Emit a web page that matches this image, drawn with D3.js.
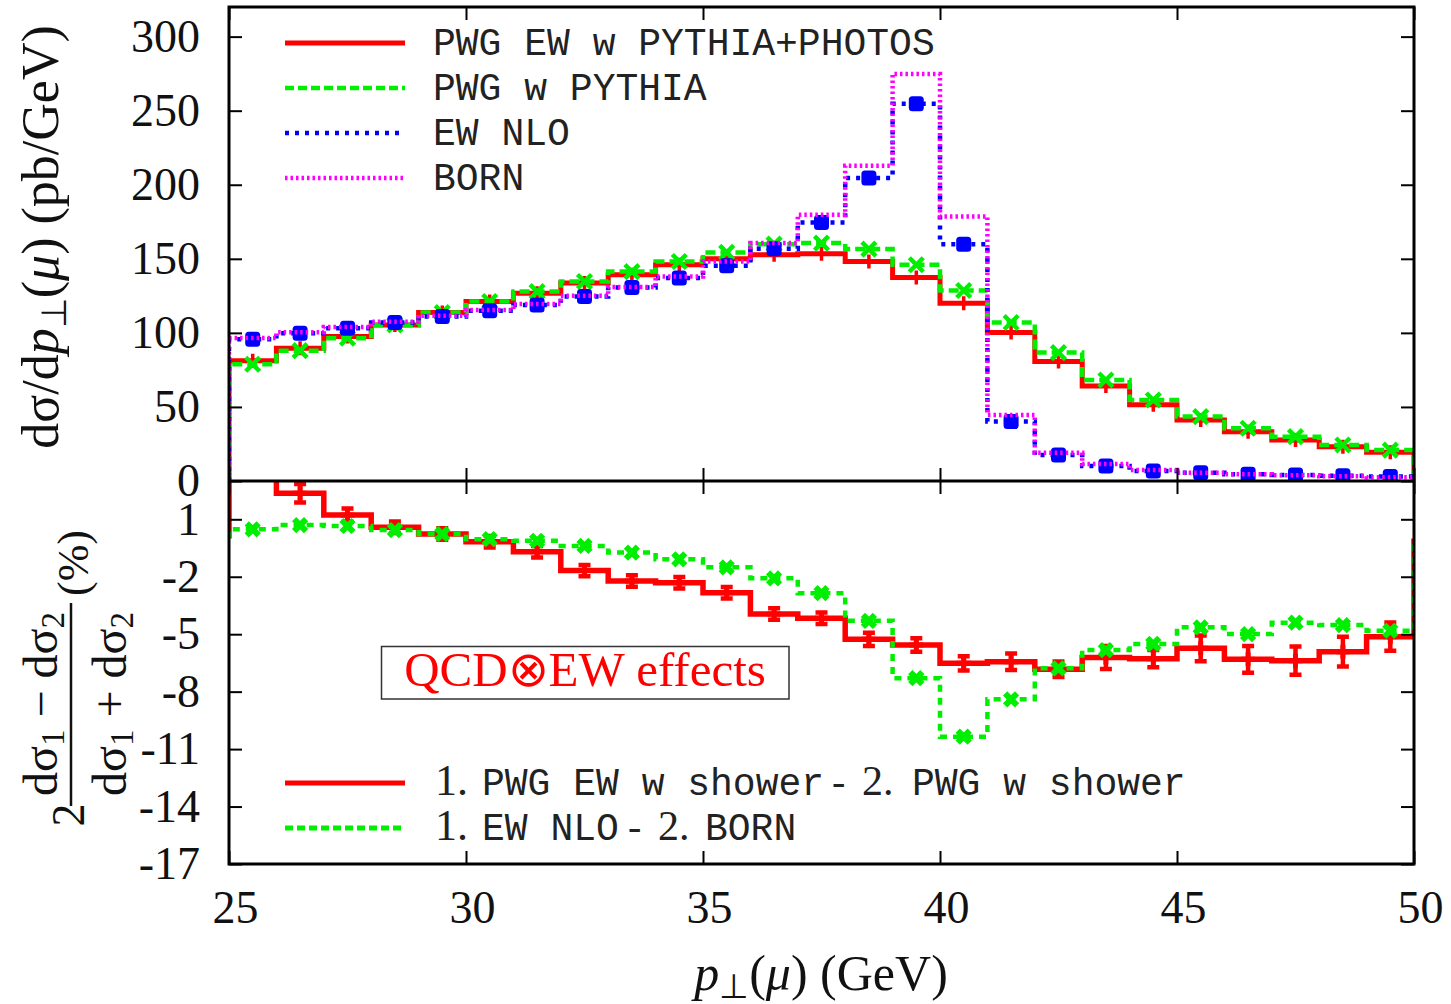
<!DOCTYPE html>
<html><head><meta charset="utf-8">
<script src="https://cdn.jsdelivr.net/npm/d3@7"></script>
<style>body{margin:0;background:#fff} svg{display:block}</style>
</head><body>
<script>
// ---------- DATA ----------
const binLo = [25,26,27,28,29,30,31,32,33,34,35,36,37,38,39,40,41,42,43,44,45,46,47,48,49];
const binHi = [26,27,28,29,30,31,32,33,34,35,36,37,38,39,40,41,42,43,44,45,46,47,48,49,50];
const binMid = [25.5,26.5,27.5,28.5,29.5,30.5,31.5,32.5,33.5,34.5,35.5,36.5,37.5,38.5,39.5,40.5,41.5,42.5,43.5,44.5,45.5,46.5,47.5,48.5,49.5];

// top panel: d sigma / d pT (pb/GeV)
const pwgEwPythiaPhotos = [81.1,89.7,97.5,105.4,113.7,121.2,126.8,133.6,139.2,146.0,150.0,152.7,153.4,148.2,137.4,120.0,100.2,80.6,64.2,51.4,41.2,33.3,27.7,23.2,19.4];
const pwgPythia        = [78.8,88.0,96.4,105.4,113.7,121.2,127.9,134.7,141.4,148.2,154.3,159.9,160.6,156.6,146.0,128.6,107.0,86.7,68.2,54.7,43.5,35.6,29.9,24.3,20.9];
const ewNLO            = [95.7,99.8,103.2,107.0,111.0,114.9,118.9,124.5,130.6,137.0,145.3,156.8,174.5,204.5,254.7,159.9,40.1,17.6,10.1,6.8,5.6,4.5,4.0,3.5,3.0];
const born             = [96.5,100.5,104.0,107.5,111.5,115.5,119.5,125.0,131.0,138.0,148.2,160.6,179.7,212.8,274.8,178.6,44.6,19.1,11.5,7.4,5.6,4.5,3.8,3.2,2.6];

// bottom panel: relative differences (%)
const diffShower    = [4.0,2.36,1.22,0.58,0.23,-0.17,-0.69,-1.68,-2.22,-2.31,-2.83,-3.95,-4.17,-5.27,-5.56,-6.52,-6.44,-6.83,-6.22,-6.28,-5.74,-6.31,-6.38,-5.91,-5.13];
const diffShowerErr = [0.3,0.48,0.35,0.3,0.3,0.3,0.3,0.3,0.3,0.3,0.3,0.3,0.3,0.35,0.35,0.37,0.43,0.4,0.6,0.45,0.67,0.7,0.74,0.78,0.74];
const diffEwBorn    = [0.48,0.70,0.65,0.44,0.23,-0.04,-0.12,-0.39,-0.74,-1.09,-1.51,-2.08,-2.86,-4.30,-7.30,-10.35,-8.40,-6.78,-5.83,-5.51,-4.64,-4.99,-4.40,-4.52,-4.82];

// ticks & labels
const xTicks = [25,30,35,40,45,50];
const yTopTicks = [0,50,100,150,200,250,300];
const yBotTicks = [1,-2,-5,-8,-11,-14,-17];
const topLegend = ["PWG EW w PYTHIA+PHOTOS","PWG w PYTHIA","EW NLO","BORN"];
const botLegend = [["PWG EW w shower","PWG w shower"],["EW NLO","BORN"]];

// ---------- CHART ----------
const W=1451,H=1004;
const L=229,R=1414,T=7,MID=481,B=864;
const serif="'Liberation Serif','Times New Roman',serif";
const mono="'Liberation Mono','Courier New',monospace";
const GREEN="#00ee00";

const svg=d3.select("body").append("svg").attr("width",W).attr("height",H);
const x=d3.scaleLinear().domain([25,50]).range([L,R]);
const yT=d3.scaleLinear().domain([0,320]).range([MID,T]);
const yB=d3.scaleLinear().domain([-17,3]).range([B,MID]);

const defs=svg.append("defs");
defs.append("clipPath").attr("id","clipTop").append("rect").attr("x",L).attr("y",T).attr("width",R-L).attr("height",MID-T);
defs.append("clipPath").attr("id","clipBot").append("rect").attr("x",L).attr("y",MID).attr("width",R-L).attr("height",B-MID);

function stepPts(vals){
  const p=[[binLo[0],0]];
  vals.forEach((v,i)=>{p.push([binLo[i],v]);p.push([binHi[i],v]);});
  p.push([binHi[binHi.length-1],0]);
  return p;
}
function drawStep(g,vals,y,color,width,dash){
  g.append("path").datum(stepPts(vals))
   .attr("d",d3.line().x(d=>x(d[0])).y(d=>y(d[1])))
   .attr("fill","none").attr("stroke",color).attr("stroke-width",width)
   .attr("stroke-dasharray",dash||null).attr("stroke-linejoin","miter");
}
function plusM(g,vals,y,color,s,w){
  g.selectAll(null).data(vals).enter().append("path")
   .attr("d",(v,i)=>{const cx=x(binMid[i]),cy=y(v);return `M${cx-s},${cy}H${cx+s}M${cx},${cy-s}V${cy+s}`;})
   .attr("stroke",color).attr("stroke-width",w).attr("fill","none");
}
function crossM(g,vals,y,color,s,w){
  g.selectAll(null).data(vals).enter().append("path")
   .attr("d",(v,i)=>{const cx=x(binMid[i]),cy=y(v);return `M${cx-s},${cy-s}L${cx+s},${cy+s}M${cx-s},${cy+s}L${cx+s},${cy-s}`;})
   .attr("stroke",color).attr("stroke-width",w).attr("fill","none");
}
function boxM(g,vals,y,color,s){
  g.selectAll(null).data(vals).enter().append("rect")
   .attr("x",(v,i)=>x(binMid[i])-s).attr("y",v=>y(v)-s)
   .attr("width",2*s).attr("height",2*s).attr("rx",3.5)
   .attr("fill",color);
}

// top panel series
const gT=svg.append("g").attr("clip-path","url(#clipTop)");
drawStep(gT,pwgEwPythiaPhotos,yT,"#ff0000",5);
plusM(gT,pwgEwPythiaPhotos,yT,"#ff0000",7,3.5);
drawStep(gT,pwgPythia,yT,GREEN,4.5,"10,5");
crossM(gT,pwgPythia,yT,GREEN,7,4.5);
drawStep(gT,ewNLO,yT,"#0000ff",4.5,"4,6");
boxM(gT,ewNLO,yT,"#0000ff",7.5);
drawStep(gT,born,yT,"#ff00ff",4.5,"2.5,3");

// bottom panel series
const gB=svg.append("g").attr("clip-path","url(#clipBot)");
drawStep(gB,diffShower,yB,"#ff0000",5.5);
gB.selectAll(null).data(diffShower).enter().append("path")
  .attr("d",(v,i)=>{const cx=x(binMid[i]),y1=yB(v-diffShowerErr[i]),y2=yB(v+diffShowerErr[i]);
     return `M${cx},${y1}V${y2}M${cx-6},${y1}H${cx+6}M${cx-6},${y2}H${cx+6}`;})
  .attr("stroke","#ff0000").attr("stroke-width",4.5).attr("fill","none");
plusM(gB,diffShower,yB,"#ff0000",7,5);
drawStep(gB,diffEwBorn,yB,GREEN,4.5,"7,6");
crossM(gB,diffEwBorn,yB,GREEN,6,6);

// frames
svg.append("rect").attr("x",L).attr("y",T).attr("width",R-L).attr("height",B-T)
   .attr("fill","none").attr("stroke","#000").attr("stroke-width",3);
svg.append("line").attr("x1",L).attr("x2",R).attr("y1",MID).attr("y2",MID)
   .attr("stroke","#000").attr("stroke-width",3);

// axes
function styleAxis(g){
  g.select(".domain").remove();
  g.selectAll(".tick line").attr("stroke","#000").attr("stroke-width",2);
  g.selectAll(".tick text").attr("font-family",serif).attr("font-size",46).attr("fill","#111");
}
const fmt=d=>String(d);
const tk=13;
svg.append("g").attr("transform",`translate(${L},0)`)
  .call(d3.axisLeft(yT).tickValues(yTopTicks).tickSize(-tk).tickPadding(29).tickFormat(fmt)).call(styleAxis);
svg.append("g").attr("transform",`translate(${R},0)`)
  .call(d3.axisRight(yT).tickValues(yTopTicks).tickSize(-tk).tickFormat("")).call(styleAxis);
svg.append("g").attr("transform",`translate(${L},0)`)
  .call(d3.axisLeft(yB).tickValues(yBotTicks).tickSize(-tk).tickPadding(29).tickFormat(fmt)).call(styleAxis);
svg.append("g").attr("transform",`translate(${R},0)`)
  .call(d3.axisRight(yB).tickValues(yBotTicks).tickSize(-tk).tickFormat("")).call(styleAxis);
svg.append("g").attr("transform",`translate(0,${T})`)
  .call(d3.axisTop(x).tickValues(xTicks).tickSize(-tk).tickFormat("")).call(styleAxis);
svg.append("g").attr("transform",`translate(0,${MID})`)
  .call(d3.axisBottom(x).tickValues(xTicks).tickSize(-tk).tickFormat("")).call(styleAxis);
svg.append("g").attr("transform",`translate(0,${MID})`)
  .call(d3.axisTop(x).tickValues(xTicks).tickSize(-tk).tickFormat("")).call(styleAxis);
const xa=svg.append("g").attr("transform",`translate(0,${B})`)
  .call(d3.axisBottom(x).tickValues(xTicks).tickSize(-tk).tickPadding(26).tickFormat(fmt)).call(styleAxis);
xa.selectAll(".tick text").attr("dx",6);

// top legend
const legColors=["#ff0000",GREEN,"#0000ff","#ff00ff"];
const legDash=[null,"9,4","4,6","2.5,3"];
const legY=[43,88,133,178];
topLegend.forEach((t,i)=>{
  svg.append("line").attr("x1",285).attr("x2",405).attr("y1",legY[i]).attr("y2",legY[i])
    .attr("stroke",legColors[i]).attr("stroke-width",i==0?5:4.5).attr("stroke-dasharray",legDash[i]);
  svg.append("text").attr("x",433).attr("y",legY[i]+12).attr("font-family",mono).attr("font-size",38)
    .attr("fill","#222").text(t);
});

// bottom legend
const botColors=["#ff0000",GREEN];
const botDash=[null,"8,4"];
const botY=[783,828];
const minusX=[832,628];
const twoX=[862,658];
const monoX=[912,705];
botLegend.forEach((p,i)=>{
  svg.append("line").attr("x1",285).attr("x2",405).attr("y1",botY[i]).attr("y2",botY[i])
    .attr("stroke",botColors[i]).attr("stroke-width",5).attr("stroke-dasharray",botDash[i]);
  const t=svg.append("text").attr("y",botY[i]+12).attr("fill","#222");
  t.append("tspan").attr("x",435).attr("font-family",serif).attr("font-size",44).text("1.");
  t.append("tspan").attr("x",482).attr("font-family",mono).attr("font-size",38).text(p[0]);
  t.append("tspan").attr("x",minusX[i]).attr("font-family",serif).attr("font-size",40).text("-");
  t.append("tspan").attr("x",twoX[i]).attr("font-family",serif).attr("font-size",42).text("2.");
  t.append("tspan").attr("x",monoX[i]).attr("font-family",mono).attr("font-size",38).text(p[1]);
});

// QCD x EW box
svg.append("rect").attr("x",381.5).attr("y",646.5).attr("width",407.5).attr("height",52.5)
  .attr("fill","#fff").attr("stroke","#333").attr("stroke-width",1.5);
svg.append("text").attr("x",585).attr("y",686).attr("text-anchor","middle")
  .attr("font-family",serif).attr("font-size",49).attr("fill","#ff0000").text("QCD⊗EW effects");

// y label (top)
const yl=svg.append("text").attr("transform","translate(58,237) rotate(-90)")
  .attr("text-anchor","middle").attr("font-family",serif).attr("font-size",52).attr("fill","#111");
yl.append("tspan").text("dσ/d");
yl.append("tspan").attr("font-style","italic").text("p");
yl.append("tspan").attr("font-size",35).attr("dy",8).text("⊥");
yl.append("tspan").attr("dy",-8).text("(");
yl.append("tspan").attr("font-style","italic").text("μ");
yl.append("tspan").text(") (pb/GeV)");

// y label (bottom) - fraction
const gl=svg.append("g").attr("transform","rotate(-90)").attr("font-family",serif).attr("fill","#111");
gl.append("text").attr("x",-815).attr("y",84).attr("text-anchor","middle").attr("font-size",46).text("2");
function sigText(xp,yp,op){
  const t=gl.append("text").attr("x",xp).attr("y",yp).attr("text-anchor","middle").attr("font-size",48);
  t.append("tspan").text("dσ");
  t.append("tspan").attr("font-size",33).attr("dy",7).text("1");
  t.append("tspan").attr("dy",-7).text(" "+op+" dσ");
  t.append("tspan").attr("font-size",33).attr("dy",7).text("2");
}
sigText(-704,57,"−");
sigText(-704,126,"+");
gl.append("line").attr("x1",-806).attr("x2",-603).attr("y1",71).attr("y2",71).attr("stroke","#111").attr("stroke-width",2.5);
gl.append("text").attr("x",-563).attr("y",88).attr("text-anchor","middle").attr("font-size",44).text("(%)");

// x label
const xl=svg.append("text").attr("x",821).attr("y",990).attr("text-anchor","middle")
  .attr("font-family",serif).attr("font-size",50).attr("fill","#111");
xl.append("tspan").attr("font-style","italic").text("p");
xl.append("tspan").attr("font-size",34).attr("dy",8).text("⊥");
xl.append("tspan").attr("dy",-8).text("(");
xl.append("tspan").attr("font-style","italic").text("μ");
xl.append("tspan").text(") (GeV)");
</script>
</body></html>
